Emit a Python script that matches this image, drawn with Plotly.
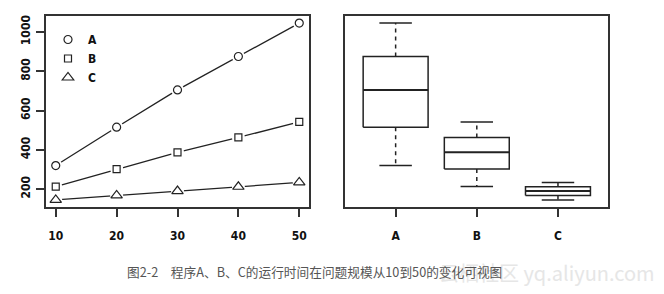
import numpy as np
import plotly.graph_objects as go

# ---- data ----
sizes = [10, 20, 30, 40, 50]
programs = ["A", "B", "C"]
time_A = [320, 515, 705, 875, 1045]
time_B = [213, 302, 387, 463, 542]
time_C = [145, 168, 190, 212, 234]
y_ticks = [200, 400, 600, 800, 1000]
caption = "图2-2\u3000程序A、B、C的运行时间在问题规模从10到50的变化可视图"
watermark = "云栖社区 yq.aliyun.com"

series = {"A": time_A, "B": time_B, "C": time_C}
symbols = {"A": "circle-open", "B": "square-open", "C": "triangle-up-open"}
msizes = {"A": 8, "B": 7, "C": 10}

W, H = 664, 294
TICKFONT = dict(family="Liberation Sans Narrow, DejaVu Sans Condensed, Arial Narrow, sans-serif",
                size=12, color="#111", weight="bold")
INK = "#222"
FRAME = "#333"

fig = go.Figure()

# ---- left panel: lines with points (R type="b") ----
for name in programs:
    vals = series[name]
    fig.add_trace(go.Scatter(x=sizes, y=vals, mode="lines", line=dict(color=INK, width=1.3),
                             showlegend=False, hoverinfo="skip", xaxis="x", yaxis="y"))
    fig.add_trace(go.Scatter(x=sizes, y=vals, mode="markers",
                             marker=dict(symbol="circle", size=13, color="white", line=dict(width=0)),
                             showlegend=False, hoverinfo="skip", xaxis="x", yaxis="y"))
    fig.add_trace(go.Scatter(x=sizes, y=vals, mode="markers",
                             marker=dict(symbol=symbols[name], size=msizes[name], color=INK,
                                         line=dict(width=1.2, color=INK)),
                             showlegend=False, xaxis="x", yaxis="y"))

# legend-only traces
for name in programs:
    fig.add_trace(go.Scatter(x=[None], y=[None], mode="markers", name=name,
                             marker=dict(symbol=symbols[name], size=msizes[name], color=INK,
                                         line=dict(width=1.2, color=INK)),
                             xaxis="x", yaxis="y"))

# ---- right panel: boxplots drawn from the same data ----
bw = 0.4   # half box width
sw = 0.2   # half staple width
for i, name in enumerate(programs):
    c = i + 1
    vals = np.array(series[name], dtype=float)
    lo, q1, med, q3, hi = np.min(vals), np.percentile(vals, 25), np.median(vals), np.percentile(vals, 75), np.max(vals)
    fig.add_trace(go.Scatter(x=[c - bw, c + bw, c + bw, c - bw, c - bw], y=[q1, q1, q3, q3, q1],
                             mode="lines", line=dict(color=INK, width=1.5), showlegend=False,
                             hoverinfo="skip", xaxis="x2", yaxis="y2"))
    fig.add_trace(go.Scatter(x=[c - bw, c + bw], y=[med, med], mode="lines",
                             line=dict(color=INK, width=2), showlegend=False,
                             hoverinfo="skip", xaxis="x2", yaxis="y2"))
    for a, b in ((q3, hi), (q1, lo)):
        fig.add_trace(go.Scatter(x=[c, c], y=[a, b], mode="lines",
                                 line=dict(color=INK, width=1.5, dash="4px,4px"), showlegend=False,
                                 hoverinfo="skip", xaxis="x2", yaxis="y2"))
    for v in (hi, lo):
        fig.add_trace(go.Scatter(x=[c - sw, c + sw], y=[v, v], mode="lines",
                                 line=dict(color=INK, width=1.5), showlegend=False,
                                 hoverinfo="skip", xaxis="x2", yaxis="y2"))

allv = time_A + time_B + time_C
ymin, ymax = min(allv), max(allv)
pad = 0.04 * (ymax - ymin)
yrange = [ymin - pad, ymax + pad]
xpad = 0.04 * (max(sizes) - min(sizes))

axis_common = dict(showline=True, mirror=True, linecolor=FRAME, linewidth=1.5,
                   showgrid=False, zeroline=False, ticks="outside", ticklen=8,
                   tickwidth=1.5, tickcolor=FRAME, tickfont=TICKFONT)

fig.update_layout(
    width=W, height=H, autosize=False,
    margin=dict(l=0, r=0, t=0, b=0),
    paper_bgcolor="white", plot_bgcolor="white",
    showlegend=True,
    legend=dict(x=48 / W, y=1 - 25 / H, xanchor="left", yanchor="top",
                bgcolor="rgba(0,0,0,0)", font=TICKFONT, tracegroupgap=0),
    xaxis=dict(domain=[46 / W, 309 / W], range=[min(sizes) - xpad, max(sizes) + xpad],
               tickvals=sizes, ticklabelstandoff=9, **axis_common),
    yaxis=dict(domain=[87 / H, 278 / H], range=yrange, tickvals=y_ticks, tickangle=-90,
               ticklabelstandoff=1, **axis_common),
    xaxis2=dict(domain=[345.3 / W, 608.3 / W], range=[0.5 - 0.12, 3.5 + 0.12],
                tickvals=[1, 2, 3], ticktext=programs, ticklabelstandoff=9, **axis_common),
    yaxis2=dict(domain=[87 / H, 278 / H], range=yrange, anchor="x2",
                showline=True, mirror=True, linecolor=FRAME, linewidth=1.5,
                showgrid=False, zeroline=False, showticklabels=False, ticks=""),
)
fig.layout.xaxis2.anchor = "y2"

fig.add_annotation(text=watermark, xref="paper", yref="paper", x=437 / W, y=1 - 272 / H,
                   xanchor="left", yanchor="middle", showarrow=False,
                   font=dict(family="Noto Sans CJK SC, Noto Sans, sans-serif", size=20, color="#e6e6e6"))
fig.add_annotation(text=caption, xref="paper", yref="paper", x=125 / W, y=1 - 271.5 / H,
                   xanchor="left", yanchor="middle", showarrow=False,
                   font=dict(family="Noto Sans CJK SC, sans-serif", size=12.7, color="#555"))

fig.write_html("out.html")
